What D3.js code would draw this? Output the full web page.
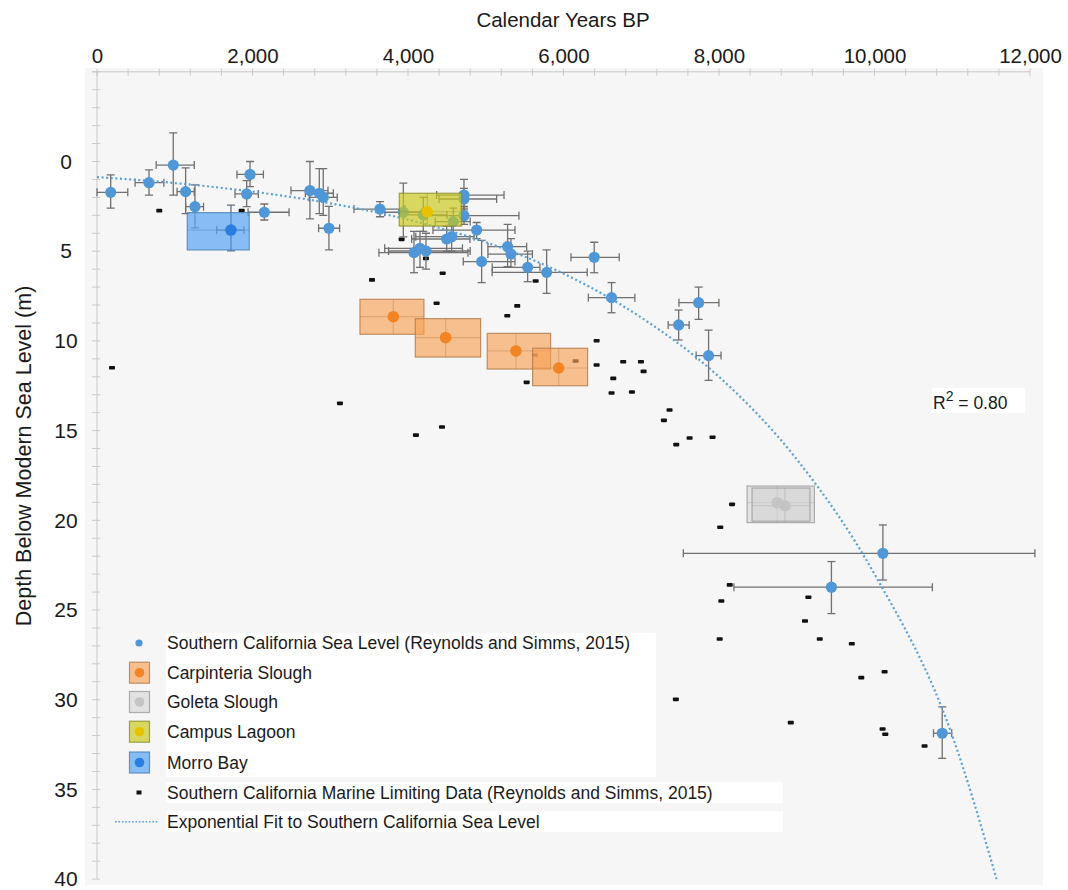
<!DOCTYPE html>
<html>
<head>
<meta charset="utf-8">
<script src="https://cdn.jsdelivr.net/npm/d3@7"></script>
<style>
  html, body { margin: 0; padding: 0; background: #ffffff; }
  svg { display: block; font-family: "Liberation Sans", Arial, Helvetica, sans-serif; }
</style>
</head>
<body>
<svg id="chart" width="1068" height="890"></svg>
<script>
// ---- Axis ticks ----
const ageTicks = [0, 2000, 4000, 6000, 8000, 10000, 12000];
const depthTicks = [0, 5, 10, 15, 20, 25, 30, 35, 40];

// ---- Southern California sea level (Reynolds and Simms, 2015) ----
// [age BP, depth m, age low, age high, depth low, depth high]
const seaLevelPoints = [
  [176, 1.72, 0, 396, 0.75, 2.6],
  [669, 1.18, 490, 860, 0.47, 1.87],
  [981, 0.2, 761, 1251, -1.6, 1.87],
  [1140, 1.68, 1030, 1250, 0.36, 2.9],
  [1260, 2.52, 1140, 1370, 1.3, 3.7],
  [1968, 0.72, 1800, 2140, 0.0, 1.4],
  [1925, 1.81, 1775, 2075, 1.07, 2.52],
  [2152, 2.83, 1943, 2470, 2.37, 3.26],
  [2739, 1.62, 2495, 2971, 0.0, 3.2],
  [2859, 1.77, 2680, 3040, 0.4, 2.9],
  [2910, 2.0, 2730, 3090, 0.4, 3.0],
  [2983, 3.72, 2850, 3120, 2.5, 4.93],
  [3639, 2.65, 3305, 3961, 2.24, 3.08],
  [3940, 2.83, 3700, 4180, 1.2, 4.2],
  [4197, 2.98, 3950, 4500, 2.0, 3.9],
  [4582, 3.35, 4350, 4800, 2.6, 4.1],
  [4720, 1.87, 4368, 5235, 1.0, 2.6],
  [4720, 2.09, 4400, 5140, 1.5, 2.7],
  [4720, 3.02, 4200, 5427, 2.5, 3.5],
  [4883, 3.82, 4321, 5376, 3.4, 4.3],
  [4497, 4.32, 4047, 4797, 3.6, 5.0],
  [4561, 4.19, 4100, 4850, 3.5, 5.0],
  [4077, 5.08, 3626, 4771, 3.9, 6.2],
  [4154, 4.84, 3700, 4700, 3.9, 5.9],
  [4231, 4.99, 3750, 4800, 4.0, 6.0],
  [4947, 5.58, 4711, 5376, 4.4, 6.75],
  [5281, 4.75, 5028, 5526, 3.5, 5.86],
  [5324, 5.16, 5028, 5600, 4.3, 5.9],
  [5539, 5.9, 5083, 5697, 5.0, 6.7],
  [5783, 6.18, 5082, 6305, 4.93, 7.35],
  [6395, 5.34, 6096, 6717, 4.5, 6.2],
  [6618, 7.59, 6320, 6918, 6.75, 8.43],
  [7481, 9.11, 7346, 7616, 8.28, 9.95],
  [7738, 7.87, 7485, 7999, 7.0, 8.8],
  [7866, 10.82, 7706, 8026, 9.4, 12.2],
  [10108, 21.84, 7541, 12063, 20.26, 23.33],
  [9446, 23.73, 8192, 10744, 22.3, 25.2],
  [10871, 31.87, 10759, 10993, 30.4, 33.27]
];

// ---- Southern California marine limiting data (Reynolds and Simms, 2015) ----
const limitingAges = [801, 1861, 193, 3125, 3537, 3918, 4231, 4446, 4368, 4102, 4437,
  5405, 5277, 5642, 5633, 5526, 6156, 6426, 6426, 6768, 6996, 7030, 6640, 6618, 6880,
  7364, 7292, 7450, 7622, 7917, 8168, 8016, 8138, 8030, 9150, 9106, 8009, 9296, 9708,
  10130, 9830, 7445, 8923, 10104, 10139, 10644];
const limitingDepths = [2.74, 2.74, 11.5, 13.48, 6.6, 4.34, 5.4, 6.23, 7.9, 15.25, 14.8,
  8.05, 8.6, 6.66, 10.79, 12.31, 11.12, 9.99, 11.34, 11.16, 11.16, 11.7, 12.09, 12.9, 12.85,
  13.85, 14.43, 15.78, 15.41, 15.37, 19.11, 20.39, 23.6, 24.5, 24.29, 25.61, 26.62, 26.62, 26.88,
  28.44, 28.77, 29.98, 31.28, 31.63, 31.93, 32.58];

// ---- Site records: [age min, age max, depth min, depth max, age, depth] ----
const carpinteriaSlough = [
  [3382, 4205, 7.68, 9.63, 3811, 8.65],
  [4094, 4934, 8.76, 10.9, 4484, 9.82],
  [5019, 5834, 9.58, 11.57, 5388, 10.56],
  [5603, 6310, 10.41, 12.5, 5938, 11.51]
];
const goletaSlough = [
  [8361, 9227, 18.09, 20.13, 8749, 19.02],
  [8425, 9170, 18.2, 20.05, 8848, 19.19]
];
const campusLagoon = [
  [3888, 4690, 1.77, 3.6, 4248, 2.8]
];
const morroBay = [
  [1161, 1958, 2.85, 4.93, 1723, 3.82]
];
// Morro Bay point uncertainty: [age low, age high, depth low, depth high]
const morroBayError = [1539, 1890, 2.43, 4.98];

// ---- Exponential fit to Southern California sea level ----
const fitAges = [0, 1000, 2000, 3000, 4000, 5000, 6000, 7000, 8000, 9000, 10000, 11000, 11570];
const fitDepths = [0.87, 1.2, 1.68, 2.33, 3.24, 4.5, 6.25, 8.7, 12.0, 16.6, 23.0, 32.0, 40.0];
const fitR2 = "0.80";

// ---- Legend ----
const legendLabels = [
  "Southern California Sea Level (Reynolds and Simms, 2015)",
  "Carpinteria Slough",
  "Goleta Slough",
  "Campus Lagoon",
  "Morro Bay",
  "Southern California Marine Limiting Data (Reynolds and Simms, 2015)",
  "Exponential Fit to Southern California Sea Level"
];

// ---- Drawing ----
const svg = d3.select("#chart");
const x = d3.scaleLinear().domain([0, 12000]).range([97, 1030]);
const y = d3.scaleLinear().domain([-5, 40]).range([71.8, 879.1]);

const C = {
  blue: "#4f97d6",
  err: "#707070",
  axis: "#c9c9c9",
  text: "#1a1a1a"
};

// plot background
svg.append("rect").attr("x", 85).attr("y", 68).attr("width", 958).attr("height", 817)
  .attr("fill", "#f6f6f6");

// clip for the plotted data
svg.append("defs").append("clipPath").attr("id", "plotClip")
  .append("rect").attr("x", 85).attr("y", 68).attr("width", 958).attr("height", y(40) - 68 + 0.5);

// ---- Axes ----
const topAxis = svg.append("g").attr("transform", `translate(0,${y(-5)})`)
  .call(d3.axisTop(x).tickValues(ageTicks).tickFormat(d3.format(",")).tickSize(0).tickPadding(9));
topAxis.select(".domain").remove();
topAxis.selectAll("text").attr("font-size", 20.5).attr("fill", C.text)
  .attr("font-family", "'Liberation Sans', Arial, sans-serif");

svg.append("line").attr("x1", x(0) - 5).attr("x2", x(12000)).attr("y1", y(-5)).attr("y2", y(-5))
  .attr("stroke", C.axis).attr("stroke-width", 1);
svg.append("g").selectAll("line").data(d3.range(0, 12001, 400)).join("line")
  .attr("x1", d => x(d)).attr("x2", d => x(d))
  .attr("y1", y(-5) - 3).attr("y2", y(-5) + 4)
  .attr("stroke", C.axis).attr("stroke-width", 1);

const leftAxis = svg.append("g").attr("transform", `translate(${x(0)},0)`)
  .call(d3.axisLeft(y).tickValues(depthTicks).tickSize(0).tickPadding(31));
leftAxis.select(".domain").remove();
leftAxis.selectAll("text").attr("font-size", 21).attr("fill", C.text)
  .attr("text-anchor", "middle")
  .attr("font-family", "'Liberation Sans', Arial, sans-serif");

svg.append("line").attr("x1", x(0)).attr("x2", x(0)).attr("y1", y(-5)).attr("y2", y(40))
  .attr("stroke", C.axis).attr("stroke-width", 1);
svg.append("g").selectAll("line").data(d3.range(-5, 40.5, 1)).join("line")
  .attr("x1", x(0) - 5).attr("x2", x(0) + 3)
  .attr("y1", d => y(d)).attr("y2", d => y(d))
  .attr("stroke", C.axis).attr("stroke-width", 1);

// axis titles
svg.append("text").attr("x", 563).attr("y", 26.5).attr("text-anchor", "middle")
  .attr("font-size", 20.5).attr("fill", C.text).text("Calendar Years BP");
svg.append("text").attr("transform", "translate(30.5,456) rotate(-90)")
  .attr("text-anchor", "middle").attr("font-size", 21.5).attr("fill", C.text)
  .text("Depth Below Modern Sea Level (m)");

const plot = svg.append("g").attr("clip-path", "url(#plotClip)");

// ---- Marine limiting data ----
plot.append("g").selectAll("rect").data(d3.zip(limitingAges, limitingDepths)).join("rect")
  .attr("x", d => x(d[0]) - 3).attr("y", d => y(d[1]) - 1.8)
  .attr("width", 6).attr("height", 3.6).attr("rx", 0.8)
  .attr("fill", "#111111");

// ---- Error bars ----
function errorBars(g, rows, color) {
  const cap = 4;
  rows.forEach(r => {
    const [ax, dy, aLo, aHi, dLo, dHi] = r;
    const eg = g.append("g").attr("stroke", color).attr("stroke-width", 1.3).attr("fill", "none");
    eg.append("line").attr("x1", x(aLo)).attr("x2", x(aHi)).attr("y1", y(dy)).attr("y2", y(dy));
    eg.append("line").attr("x1", x(aLo)).attr("x2", x(aLo)).attr("y1", y(dy) - cap).attr("y2", y(dy) + cap);
    eg.append("line").attr("x1", x(aHi)).attr("x2", x(aHi)).attr("y1", y(dy) - cap).attr("y2", y(dy) + cap);
    eg.append("line").attr("x1", x(ax)).attr("x2", x(ax)).attr("y1", y(dLo)).attr("y2", y(dHi));
    eg.append("line").attr("x1", x(ax) - cap).attr("x2", x(ax) + cap).attr("y1", y(dLo)).attr("y2", y(dLo));
    eg.append("line").attr("x1", x(ax) - cap).attr("x2", x(ax) + cap).attr("y1", y(dHi)).attr("y2", y(dHi));
  });
}

const slGroup = plot.append("g");
errorBars(slGroup, seaLevelPoints, C.err);
slGroup.append("g").selectAll("circle").data(seaLevelPoints).join("circle")
  .attr("cx", d => x(d[0])).attr("cy", d => y(d[1])).attr("r", 5.6)
  .attr("fill", C.blue);

// ---- Exponential fit ----
const fitLine = d3.line().x(d => x(d[0])).y(d => y(d[1])).curve(d3.curveMonotoneX);
plot.append("path").datum(d3.zip(fitAges, fitDepths))
  .attr("d", fitLine).attr("fill", "none")
  .attr("stroke", "#5a9fd9").attr("stroke-width", 2.2)
  .attr("stroke-dasharray", "2 2.6");

// ---- Site boxes ----
const sites = [
  { rows: carpinteriaSlough, fill: "#f7a256", stroke: "#b07a48", dot: "#f28424", op: 0.65 },
  { rows: goletaSlough, fill: "#d2d2d2", stroke: "#9b9b9b", dot: "#c4c4c4", op: 0.55 },
  { rows: campusLagoon, fill: "#c8c81a", stroke: "#8c8c30", dot: "#e8c200", op: 0.68 },
  { rows: morroBay, fill: "#5aa6f2", stroke: "#4a7fb8", dot: "#2a7de1", op: 0.72 }
];

sites.forEach(s => {
  const g = plot.append("g");
  if (s.rows === morroBay) {
    errorBars(g, [[morroBay[0][4], morroBay[0][5], ...morroBayError]], "#5f6f80");
  }
  s.rows.forEach(r => {
    const [a0, a1, d0, d1, a, d] = r;
    g.append("rect")
      .attr("x", x(a0)).attr("y", y(d0))
      .attr("width", x(a1) - x(a0)).attr("height", y(d1) - y(d0))
      .attr("fill", s.fill).attr("fill-opacity", s.op)
      .attr("stroke", s.stroke).attr("stroke-opacity", 0.8).attr("stroke-width", 1.2);
    // range cross-hairs through the site point
    g.append("line").attr("x1", x(a0)).attr("x2", x(a1)).attr("y1", y(d)).attr("y2", y(d))
      .attr("stroke", s.stroke).attr("stroke-opacity", 0.35).attr("stroke-width", 1.2);
    g.append("line").attr("x1", x(a)).attr("x2", x(a)).attr("y1", y(d0)).attr("y2", y(d1))
      .attr("stroke", s.stroke).attr("stroke-opacity", 0.35).attr("stroke-width", 1.2);
  });
  g.selectAll("circle.site").data(s.rows).join("circle").attr("class", "site")
    .attr("cx", r => x(r[4])).attr("cy", r => y(r[5])).attr("r", 5.8)
    .attr("fill", s.dot);
});

// ---- Legend ----
const legendRowsY = [643, 672.7, 702, 731.7, 762.5, 792.5, 821.7];
const legendText = 167;
svg.append("rect").attr("x", 166).attr("y", 633).attr("width", 490).attr("height", 144).attr("fill", "#ffffff");
svg.append("rect").attr("x", 166).attr("y", 782).attr("width", 617).attr("height", 21).attr("fill", "#ffffff");
svg.append("rect").attr("x", 166).attr("y", 811).attr("width", 617).attr("height", 21).attr("fill", "#ffffff");

const lg = svg.append("g");
lg.selectAll("text").data(legendLabels).join("text")
  .attr("x", legendText).attr("y", (d, i) => legendRowsY[i]).attr("dy", "0.35em")
  .attr("font-size", 17.5).attr("fill", C.text).text(d => d);

// legend symbols
lg.append("circle").attr("cx", 139).attr("cy", legendRowsY[0]).attr("r", 3.6).attr("fill", C.blue);
sites.forEach((s, i) => {
  const cy = legendRowsY[i + 1];
  lg.append("rect").attr("x", 129.5).attr("y", cy - 10.5).attr("width", 20).attr("height", 21)
    .attr("fill", s.fill).attr("fill-opacity", s.op)
    .attr("stroke", s.stroke).attr("stroke-opacity", 0.8).attr("stroke-width", 1.2);
  lg.append("circle").attr("cx", 139.5).attr("cy", cy).attr("r", 4.8).attr("fill", s.dot);
});
lg.append("rect").attr("x", 136.5).attr("y", legendRowsY[5] - 2).attr("width", 5).attr("height", 4)
  .attr("fill", "#111111");
lg.append("line").attr("x1", 115).attr("x2", 158).attr("y1", legendRowsY[6]).attr("y2", legendRowsY[6])
  .attr("stroke", "#5a9fd9").attr("stroke-width", 1.6).attr("stroke-dasharray", "1.6 1.8");

// ---- R² label ----
svg.append("rect").attr("x", 932).attr("y", 388).attr("width", 93).attr("height", 25).attr("fill", "#ffffff");
const r2 = svg.append("text").attr("x", 933).attr("y", 409).attr("font-size", 17.5).attr("fill", C.text);
r2.append("tspan").text("R");
r2.append("tspan").attr("dy", -8).attr("font-size", 14).text("2");
r2.append("tspan").attr("dy", 8).text(" = " + fitR2);
</script>
</body>
</html>
